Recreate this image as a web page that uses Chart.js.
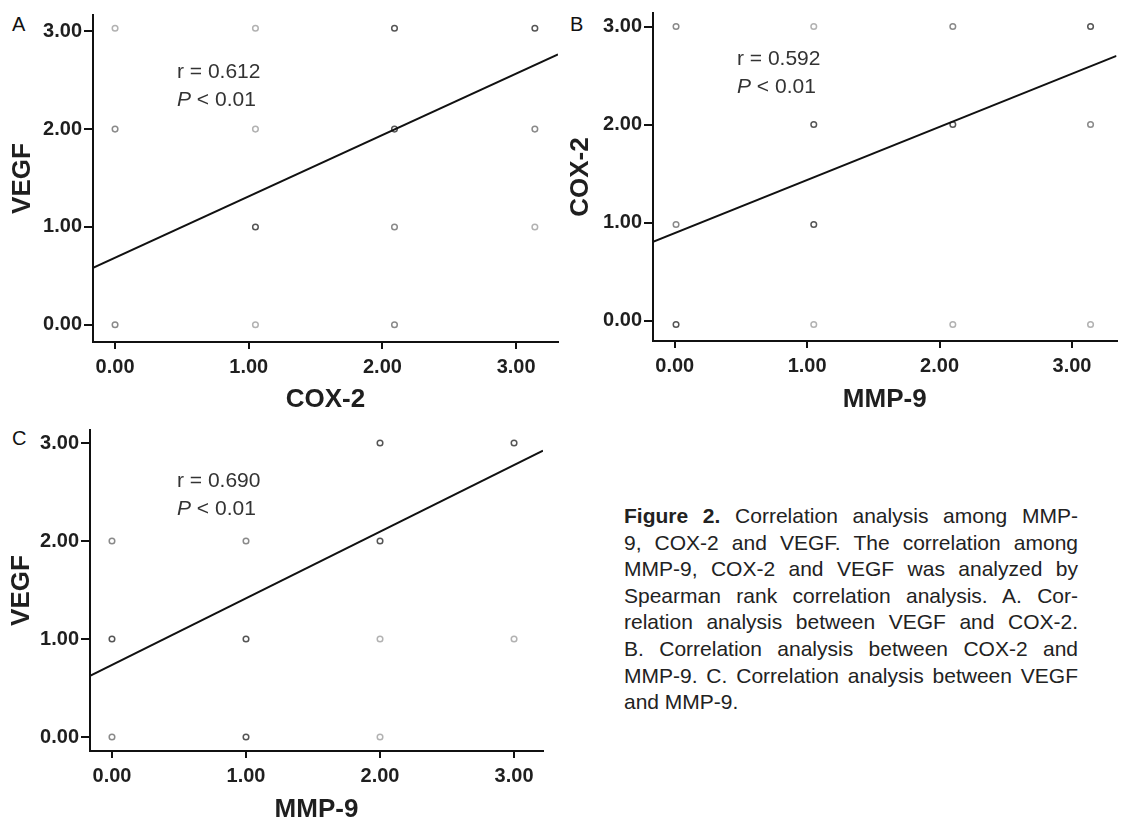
<!DOCTYPE html>
<html>
<head>
<meta charset="utf-8">
<script src="https://cdn.jsdelivr.net/npm/chart.js@4.4.1/dist/chart.umd.min.js"></script>
<style>
  body { margin: 0; width: 1122px; height: 820px; overflow: hidden; position: relative; background: #fff;
         font-family: "Liberation Sans", Arial, sans-serif; }
  canvas { position: absolute; }
  .letter { position: absolute; font-size: 20px; line-height: 24px; color: #111; }
  .stat { position: absolute; font-size: 21px; line-height: 28px; color: #333; white-space: nowrap; }
  #caption { position: absolute; left: 624px; top: 503px; width: 454px; font-size: 21px; line-height: 26.6px; color: #222; }
  #caption .j { text-align: justify; text-align-last: justify; }
</style>
</head>
<body>

<div class="letter" style="left:12px;top:12px">A</div>
<div class="letter" style="left:570px;top:12px">B</div>
<div class="letter" style="left:12px;top:426px">C</div>

<canvas id="chartA" width="600" height="420" style="left:0;top:0"></canvas>
<canvas id="chartB" width="562" height="420" style="left:560px;top:0"></canvas>
<canvas id="chartC" width="560" height="430" style="left:0;top:410px"></canvas>

<div class="stat" style="left:177px;top:57px">r = 0.612<br><i>P</i> &lt; 0.01</div>
<div class="stat" style="left:737px;top:44px">r = 0.592<br><i>P</i> &lt; 0.01</div>
<div class="stat" style="left:177px;top:466px">r = 0.690<br><i>P</i> &lt; 0.01</div>

<div id="caption">
  <div class="j"><b>Figure 2.</b> Correlation analysis among MMP-</div>
  <div class="j">9, COX-2 and VEGF. The correlation among</div>
  <div class="j">MMP-9, COX-2 and VEGF was analyzed by</div>
  <div class="j">Spearman rank correlation analysis. A. Cor-</div>
  <div class="j">relation analysis between VEGF and COX-2.</div>
  <div class="j">B. Correlation analysis between COX-2 and</div>
  <div class="j">MMP-9. C. Correlation analysis between VEGF</div>
  <div>and MMP-9.</div>
</div>

<script>
/************************************************************
 * DATA
 ************************************************************/
const tickValues = [0, 1, 2, 3];

// A: VEGF (y) vs COX-2 (x)
const aX = [0, 1.05, 2.09, 3.14, 0, 1.05, 2.09, 3.14, 1.05, 2.09, 3.14, 0, 1.05, 2.09];
const aY = [3.03, 3.03, 3.03, 3.03, 2, 2, 2, 2, 1, 1, 1, 0, 0, 0];
const aCount = [1, 1, 3, 3, 2, 1, 3, 2, 3, 2, 1, 2, 1, 2];
const aXLim = [-0.165, 3.313];
const aYLim = [-0.176, 3.166];
const aFit = [0.581, 2.763];

// B: COX-2 (y) vs MMP-9 (x)
const bX = [0.01, 1.05, 2.1, 3.14, 1.05, 2.1, 3.14, 0.01, 1.05, 0.01, 1.05, 2.1, 3.14];
const bY = [3, 3, 3, 3, 2, 2, 2, 0.98, 0.98, -0.04, -0.04, -0.04, -0.04];
const bCount = [2, 1, 2, 3, 3, 3, 2, 2, 3, 3, 1, 1, 1];
const bXLim = [-0.164, 3.336];
const bYLim = [-0.209, 3.138];
const bFit = [0.804, 2.7];

// C: VEGF (y) vs MMP-9 (x)
const cX = [2, 3, 0, 1, 2, 0, 1, 2, 3, 0, 1, 2];
const cY = [3, 3, 2, 2, 2, 1, 1, 1, 1, 0, 0, 0];
const cCount = [3, 3, 2, 2, 3, 3, 3, 1, 1, 2, 3, 1];
const cXLim = [-0.164, 3.216];
const cYLim = [-0.143, 3.133];
const cFit = [0.624, 2.923];

/************************************************************
 * HELPERS
 ************************************************************/
const FONT = '"Liberation Sans", Arial, sans-serif';
const INK = "#1f1f1f";
// darker ring = more overlapping cases
const SHADE = { 1: "#b2b2b2", 2: "#8a8a8a", 3: "#555555" };

function makePanel(id, p) {
  const points = p.x.map((x, i) => ({ x, y: p.y[i] }));

  new Chart(document.getElementById(id), {
    type: "scatter",
    data: {
      datasets: [
        {
          data: points,
          pointRadius: 2.8,
          pointBorderWidth: 1.5,
          pointBorderColor: p.count.map((n) => SHADE[n]),
          pointBackgroundColor: "rgba(0,0,0,0)",
          order: 2,
        },
        {
          type: "line",
          data: [
            { x: p.xLim[0], y: p.fit[0] },
            { x: p.xLim[1], y: p.fit[1] },
          ],
          borderColor: "#111",
          borderWidth: 2,
          pointRadius: 0,
          order: 1,
        },
      ],
    },
    options: {
      responsive: false,
      animation: false,
      events: [],
      layout: { padding: { top: p.top, right: p.right, left: 0, bottom: 0 } },
      plugins: { legend: { display: false }, tooltip: { enabled: false } },
      scales: {
        x: {
          type: "linear",
          min: p.xLim[0],
          max: p.xLim[1],
          afterBuildTicks: (s) => { s.ticks = tickValues.map((v) => ({ value: v })); },
          afterFit: (s) => { s.height = p.xH; s.paddingLeft = 0; s.paddingRight = 0; },
          grid: { drawOnChartArea: false, tickLength: 7, color: "#111", lineWidth: 2 },
          border: { color: "#111", width: 2 },
          ticks: {
            padding: 6, color: INK, autoSkip: false, maxRotation: 0,
            font: { family: FONT, size: 20, weight: "bold" },
            callback: (v) => v.toFixed(2),
          },
          title: {
            display: true, text: p.xTitle, color: INK,
            font: { family: FONT, size: 26, weight: "bold" },
            padding: { top: 0, bottom: p.xTitlePad },
          },
        },
        y: {
          type: "linear",
          min: p.yLim[0],
          max: p.yLim[1],
          afterBuildTicks: (s) => { s.ticks = tickValues.map((v) => ({ value: v })); },
          afterFit: (s) => { s.width = p.yW; s.paddingTop = 0; s.paddingBottom = 0; },
          grid: { drawOnChartArea: false, tickLength: 9, color: "#111", lineWidth: 2 },
          border: { color: "#111", width: 2 },
          ticks: {
            padding: 2, color: INK, autoSkip: false,
            font: { family: FONT, size: 20, weight: "bold" },
            callback: (v) => v.toFixed(2),
          },
          title: {
            display: true, text: p.yTitle, color: INK,
            font: { family: FONT, size: 26, weight: "bold" },
            padding: { top: p.yTitlePad, bottom: 0 },
          },
        },
      },
    },
  });
}

document.addEventListener("DOMContentLoaded", () => {
  makePanel("chartA", {
    x: aX, y: aY, count: aCount, xLim: aXLim, yLim: aYLim, fit: aFit,
    xTitle: "COX-2", yTitle: "VEGF",
    top: 15, right: 42, yW: 93, xH: 78, xTitlePad: 5, yTitlePad: 7,
  });
  makePanel("chartB", {
    x: bX, y: bY, count: bCount, xLim: bXLim, yLim: bYLim, fit: bFit,
    xTitle: "MMP-9", yTitle: "COX-2",
    top: 13, right: 0, yW: 93, xH: 79, xTitlePad: 5, yTitlePad: 5,
  });
  makePanel("chartC", {
    x: cX, y: cY, count: cCount, xLim: cXLim, yLim: cYLim, fit: cFit,
    xTitle: "MMP-9", yTitle: "VEGF",
    top: 20, right: 17, yW: 90, xH: 89, xTitlePad: 15, yTitlePad: 6,
  });
});
</script>
</body>
</html>
